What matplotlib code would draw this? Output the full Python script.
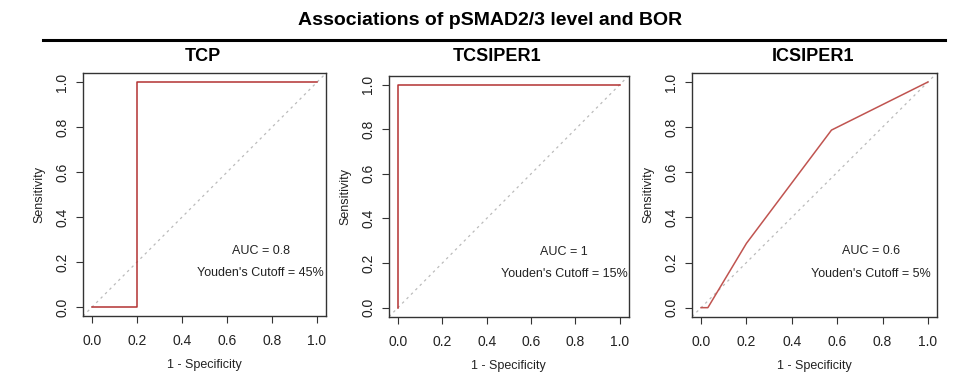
import matplotlib
matplotlib.use("Agg")
import matplotlib.pyplot as plt
from matplotlib.lines import Line2D

plt.rcParams['font.family'] = ['Liberation Sans', 'DejaVu Sans']

# ROC curves (x = 1 - specificity, y = sensitivity)
panel_titles = ["TCP", "TCSIPER1", "ICSIPER1"]
tcp_fpr = [0.0, 0.2, 0.2, 1.0]
tcp_tpr = [0.0, 0.0, 1.0, 1.0]
tcsiper1_fpr = [0.0, 0.0, 1.0]
tcsiper1_tpr = [0.0, 1.0, 1.0]
icsiper1_fpr = [0.0, 0.03, 0.2, 0.575, 1.0]
icsiper1_tpr = [0.0, 0.0, 0.285, 0.787, 1.0]
auc_labels = ["AUC = 0.8", "AUC = 1", "AUC = 0.6"]
cutoff_labels = ["Youden's Cutoff = 45%", "Youden's Cutoff = 15%", "Youden's Cutoff = 5%"]
ticks = [0.0, 0.2, 0.4, 0.6, 0.8, 1.0]
tick_labels = ["0.0", "0.2", "0.4", "0.6", "0.8", "1.0"]

curves = [(tcp_fpr, tcp_tpr), (tcsiper1_fpr, tcsiper1_tpr), (icsiper1_fpr, icsiper1_tpr)]
line_colors = ["#b33232", "#b33232", "#c05450"]
# axes boxes in figure fractions [left, bottom, width, height]
boxes = [
    [0.0869, 0.166, 0.2545, 0.641],
    [0.4073, 0.1644, 0.251, 0.636],
    [0.7246, 0.1644, 0.2565, 0.643],
]
title_x = [0.2125, 0.52, 0.851]

fig = plt.figure(figsize=(9.55, 3.79), dpi=100)

fig.text(0.513, 0.945, "Associations of pSMAD2/3 level and BOR", ha="center", va="center",
         fontsize=14, fontweight="bold")
fig.add_artist(Line2D([0.045, 0.99], [0.894, 0.894], color="black", lw=2.2,
                      transform=fig.transFigure))

for i in range(3):
    ax = fig.add_axes(boxes[i])
    fpr, tpr = curves[i]
    ax.axline((0, 0), (1, 1), color="#bbbbbb", lw=0.9, ls=(0, (2, 3)))
    ax.plot(fpr, tpr, color=line_colors[i], lw=1.1)
    ax.set_xlim(-0.04, 1.04)
    ax.set_ylim(-0.04, 1.04)
    ax.set_xticks(ticks)
    ax.set_xticklabels(tick_labels)
    ax.set_yticks(ticks)
    ax.set_yticklabels(tick_labels, rotation=90, va="center")
    ax.tick_params(direction="out", length=5, width=0.8, colors="#333333",
                   labelsize=10, labelcolor="#222222")
    ax.tick_params(axis="x", pad=8)
    ax.tick_params(axis="y", pad=5)
    for sp in ax.spines.values():
        sp.set_color("#333333")
        sp.set_linewidth(1.0)
    ax.set_xlabel("1 - Specificity", fontsize=9, labelpad=8, color="#222222")
    ax.set_ylabel("Sensitivity", fontsize=9, labelpad=7, color="#222222")
    fig.text(title_x[i], 0.85, panel_titles[i], ha="center", va="center",
             fontsize=13, fontweight="bold")
    ax.text(0.75, 0.25, auc_labels[i], ha="center", va="center", fontsize=9, color="#222222")
    ax.text(0.75, 0.15, cutoff_labels[i], ha="center", va="center", fontsize=9, color="#222222")

fig.savefig("out.png", dpi=100)
